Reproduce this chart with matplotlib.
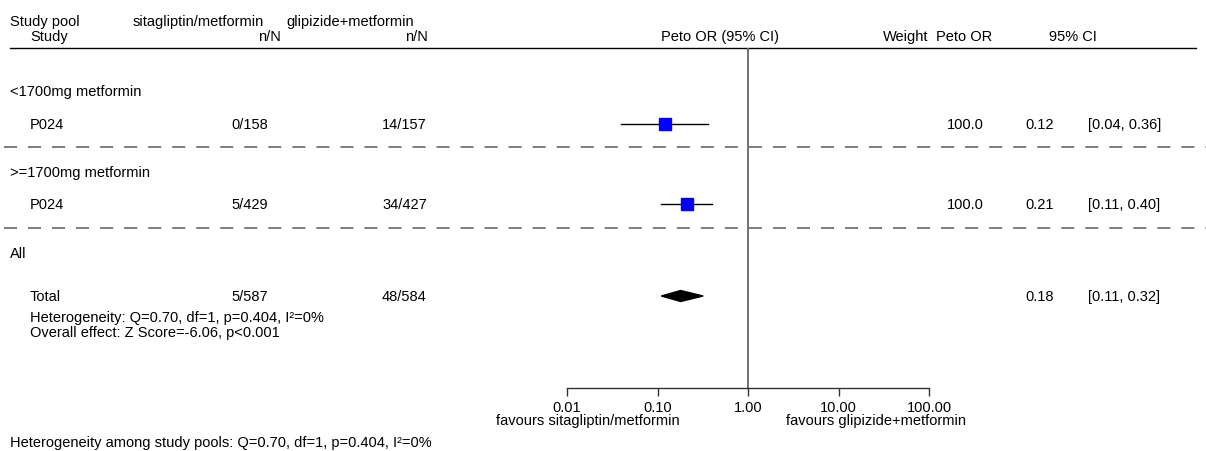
import matplotlib
matplotlib.use("Agg")
import matplotlib.pyplot as plt
import numpy as np

plt.rcParams['font.family'] = ['Liberation Sans', 'DejaVu Sans']
plt.rcParams['lines.scale_dashes'] = False

# ---------------- data ----------------
groups = ["<1700mg metformin", ">=1700mg metformin"]
studies = ["P024", "P024"]
sita_nN = ["0/158", "5/429"]
glip_nN = ["14/157", "34/427"]
peto_or = [0.12, 0.21]
ci_low = [0.04, 0.11]
ci_high = [0.36, 0.40]
weights = ["100.0", "100.0"]
or_text = ["0.12", "0.21"]
ci_text = ["[0.04, 0.36]", "[0.11, 0.40]"]

total_label = "Total"
total_sita = "5/587"
total_glip = "48/584"
total_or = 0.18
total_low = 0.11
total_high = 0.32
total_or_text = "0.18"
total_ci_text = "[0.11, 0.32]"

het_text = "Heterogeneity: Q=0.70, df=1, p=0.404, I\u00b2=0%"
overall_text = "Overall effect: Z Score=-6.06, p<0.001"
pool_het_text = "Heterogeneity among study pools: Q=0.70, df=1, p=0.404, I\u00b2=0%"

xticks = [0.01, 0.1, 1, 10, 100]
xtick_labels = ["0.01", "0.10", "1.00", "10.00", "100.00"]
left_fav = "favours sitagliptin/metformin"
right_fav = "favours glipizide+metformin"

# ---------------- layout ----------------
W, H = 1206, 452
fig = plt.figure(figsize=(W / 100, H / 100), dpi=100)
ax = fig.add_axes([0, 0, 1, 1])
ax.set_xlim(0, W)
ax.set_ylim(H, 0)
ax.axis('off')

fs = 10.5
col = dict(ha='left', va='center', fontsize=fs, color='black')

# header
ax.text(10, 22, "Study pool", **col)
ax.text(30, 37, "Study", **col)
ax.text(133, 22, "sitagliptin/metformin", **col)
ax.text(286, 22, "glipizide+metformin", **col)
ax.text(281, 37, "n/N", ha='right', va='center', fontsize=fs)
ax.text(428, 37, "n/N", ha='right', va='center', fontsize=fs)
ax.text(720, 37, "Peto OR (95% CI)", ha='center', va='center', fontsize=fs)
ax.text(883, 37, "Weight", **col)
ax.text(992, 37, "Peto OR", ha='right', va='center', fontsize=fs)
ax.text(1097, 37, "95% CI", ha='right', va='center', fontsize=fs)
ax.plot([10, 1196], [49, 49], color='black', lw=1.0)

group_y = [92, 173]
row_y = [125, 205]
dash_y = [148, 229]
for i in range(len(groups)):
    ax.text(10, group_y[i], groups[i], **col)
    ax.text(30, row_y[i], studies[i], **col)
    ax.text(231, row_y[i], sita_nN[i], **col)
    ax.text(382, row_y[i], glip_nN[i], **col)
    ax.text(984, row_y[i], weights[i], ha='right', va='center', fontsize=fs)
    ax.text(1025, row_y[i], or_text[i], **col)
    ax.text(1088, row_y[i], ci_text[i], **col)
    ax.plot([4, W], [dash_y[i], dash_y[i]], color='#5a5a5a', lw=1.1,
            linestyle=(0, (9.4, 7.9)))

ax.text(10, 254, "All", **col)
tot_y = 297
ax.text(30, tot_y, total_label, **col)
ax.text(231, tot_y, total_sita, **col)
ax.text(382, tot_y, total_glip, **col)
ax.text(1025, tot_y, total_or_text, **col)
ax.text(1088, tot_y, total_ci_text, **col)
ax.text(30, 318, het_text, **col)
ax.text(30, 333, overall_text, **col)
ax.text(10, 443, pool_het_text, **col)

# ---------------- forest axes ----------------
x0, x1 = 567, 929
ytop, ybot = 49, 389
fx = fig.add_axes([x0 / W, 1 - ybot / H, (x1 - x0) / W, (ybot - ytop) / H])
fx.set_xscale('log')
fx.set_xlim(0.01, 100)
fx.set_ylim(ybot, ytop)
fx.patch.set_alpha(0)
for s in ['top', 'right', 'left']:
    fx.spines[s].set_visible(False)
fx.spines['bottom'].set_color('#333333')
fx.spines['bottom'].set_linewidth(1.0)
fx.set_yticks([])
fx.set_xticks(xticks)
fx.set_xticklabels(xtick_labels, fontsize=fs)
fx.minorticks_off()
fx.tick_params(axis='x', direction='out', length=6, width=1.0, color='#333333', pad=3)
fx.axvline(1, color='#666666', lw=1.3, zorder=1)

for i in range(len(peto_or)):
    fx.plot([ci_low[i], ci_high[i]], [row_y[i], row_y[i]], color='black', lw=1.0, zorder=2)
    fx.plot([peto_or[i]], [row_y[i]], marker='s', ms=8, color='#0000ff',
            markeredgecolor='#0000ff', zorder=3)

dx = [total_low, total_or, total_high, total_or]
dy = [tot_y, tot_y - 5.5, tot_y, tot_y + 5.5]
fx.fill(dx, dy, color='black', zorder=3)

ax.text(588, 421, left_fav, ha='center', va='center', fontsize=fs)
ax.text(876, 421, right_fav, ha='center', va='center', fontsize=fs)

fig.savefig("out.png", dpi=100)
